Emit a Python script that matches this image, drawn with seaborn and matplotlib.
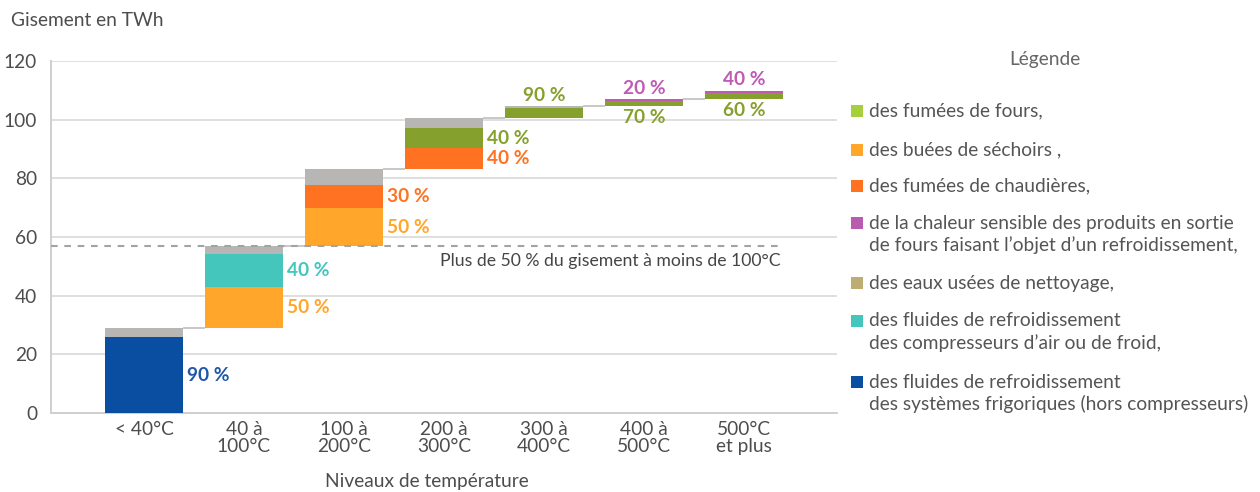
import numpy as np
import pandas as pd
import matplotlib
matplotlib.use("Agg")
import matplotlib.pyplot as plt
import seaborn as sns
from matplotlib.patches import Rectangle

# ---------------- data ----------------
categories = ["< 40°C", "40 à\n100°C", "100 à\n200°C", "200 à\n300°C",
              "300 à\n400°C", "400 à\n500°C", "500°C\net plus"]

# segment heights (TWh), stacking order bottom -> top
frigo = [25.8, 0, 0, 0, 0, 0, 0]
buees = [0, 14.0, 12.8, 0, 0, 0, 0]
compresseurs = [0, 11.3, 0, 0, 0, 0, 0]
chaudieres = [0, 0, 7.9, 6.9, 0, 0, 0]
fours = [0, 0, 0, 7.1, 3.3, 1.7, 2.2]
produits = [0, 0, 0, 0, 0, 0.7, 0.7]
eaux = [3.1, 2.8, 5.6, 3.4, 0.5, 0, 0]

series_keys = ["frigo", "buees", "compresseurs", "chaudieres", "fours", "produits", "eaux"]
series_values = [frigo, buees, compresseurs, chaudieres, fours, produits, eaux]

bar_colors = {"frigo": "#0a4ea2", "buees": "#ffa62b", "compresseurs": "#45c6bd",
              "chaudieres": "#ff7222", "fours": "#86a02e", "produits": "#c05ab4",
              "eaux": "#b8b6b4"}
label_colors = {"frigo": "#1f57aa", "buees": "#ffa62b", "compresseurs": "#45c6bd",
                "chaudieres": "#ff7222", "fours": "#86a02e", "produits": "#c05ab4"}

# percentage labels
label_cat = [0, 1, 1, 2, 2, 3, 3, 4, 5, 5, 6, 6]
label_series = ["frigo", "buees", "compresseurs", "buees", "chaudieres", "chaudieres",
                "fours", "fours", "produits", "fours", "produits", "fours"]
label_text = ["90 %", "50 %", "40 %", "50 %", "30 %", "40 %", "40 %",
              "90 %", "20 %", "70 %", "40 %", "60 %"]
label_place = ["right"] * 7 + ["above", "above", "below", "above", "below"]

threshold = 57.0
threshold_text = "Plus de 50 % du gisement à moins de 100°C"

legend_title = "Légende"
legend_keys = ["fours", "buees", "chaudieres", "produits", "eaux", "compresseurs", "frigo"]
legend_labels = ["des fumées de fours,",
                 "des buées de séchoirs ,",
                 "des fumées de chaudières,",
                 "de la chaleur sensible des produits en sortie\nde fours faisant l’objet d’un refroidissement,",
                 "des eaux usées de nettoyage,",
                 "des fluides de refroidissement\ndes compresseurs d’air ou de froid,",
                 "des fluides de refroidissement\ndes systèmes frigoriques (hors compresseurs)"]
legend_colors = ["#a6cf3e", "#ffa62b", "#ff7222", "#b95cb0", "#bcae72", "#45c6bd", "#0a4ea2"]

y_label = "Gisement en TWh"
x_label = "Niveaux de température"
y_ticks = [0, 20, 40, 60, 80, 100, 120]

# ---------------- style ----------------
sns.set_theme(style="white")
plt.rcParams["font.family"] = ["Lato", "DejaVu Sans"]

W, H = 1260, 492
FS = 13.8
fig = plt.figure(figsize=(W / 100, H / 100), dpi=100)
ax = fig.add_axes([51 / W, 1 - 413 / H, (837 - 51) / W, (413 - 61) / H])

seg = np.array(series_values, dtype=float)
bar_tot = seg.sum(axis=0)
base = np.concatenate([[0.0], np.cumsum(bar_tot)[:-1]])
bottoms = base + np.cumsum(seg, axis=0) - seg
bw = 0.78

for k, key in enumerate(series_keys):
    df = pd.DataFrame({"cat": categories, "val": seg[k]})
    sns.barplot(data=df, x="cat", y="val", order=categories, color=bar_colors[key],
                saturation=1, width=bw, errorbar=None, bottom=bottoms[k],
                linewidth=0, ax=ax, zorder=3)

# connectors
tops = base + bar_tot
for i in range(len(categories) - 1):
    ax.plot([i + bw / 2, i + 1 - bw / 2], [tops[i], tops[i]], color="#c8c8c8",
            lw=1.4, zorder=2, solid_capstyle="butt")

# threshold line
ax.plot([-0.93, 6.36], [threshold, threshold], color="#a3a3a3", lw=1.5,
        ls=(0, (3.2, 3.2)), zorder=4)
ax.text(6.37, 51.8, threshold_text, ha="right", va="center", fontsize=12.7,
        color="#454545", zorder=5)

# percentage labels
idx = {k: i for i, k in enumerate(series_keys)}
for c, s, t, p in zip(label_cat, label_series, label_text, label_place):
    k = idx[s]
    col = label_colors[s]
    if p == "right":
        y = bottoms[k][c] + seg[k][c] / 2
        ax.annotate(t, xy=(c + bw / 2, y), xytext=(3, 0), textcoords="offset points",
                    ha="left", va="center", fontsize=FS, fontweight="bold", color=col,
                    zorder=6)
    elif p == "above":
        ax.annotate(t, xy=(c, tops[c]), xytext=(0, 8), textcoords="offset points",
                    ha="center", va="center", fontsize=FS, fontweight="bold", color=col,
                    zorder=6)
    else:
        ax.annotate(t, xy=(c, base[c]), xytext=(0, -8), textcoords="offset points",
                    ha="center", va="center", fontsize=FS, fontweight="bold", color=col,
                    zorder=6)

# axes styling
ax.set_xlim(-0.93, 6.93)
ax.set_ylim(0, 120)
ax.set_yticks(y_ticks)
ax.set_xlabel("")
ax.set_ylabel("")
ax.yaxis.grid(True, color="#d9d9d9", lw=1.2, zorder=0)
ax.xaxis.grid(False)
ax.set_axisbelow(True)
for sp in ["top", "right"]:
    ax.spines[sp].set_visible(False)
ax.spines["left"].set_color("#cfcfcf")
ax.spines["bottom"].set_color("#cfcfcf")
ax.spines["left"].set_linewidth(1.4)
ax.spines["bottom"].set_linewidth(1.4)
ax.tick_params(axis="y", length=0, pad=10, labelsize=FS, labelcolor="#4d4d4d")
ax.tick_params(axis="x", length=0, pad=6, labelsize=FS, labelcolor="#4d4d4d")
for t in ax.get_xticklabels():
    t.set_linespacing(1.0)
    t.set_verticalalignment("top")

# figure texts
fig.text(11 / W, 1 - 21 / H, y_label, ha="left", va="center", fontsize=FS, color="#4d4d4d")
fig.text(427 / W, 1 - 473 / H, x_label, ha="center", va="top", fontsize=FS, color="#4d4d4d")

# legend
fig.text(1045 / W, 1 - 60 / H, legend_title, ha="center", va="center", fontsize=FS, color="#666666")
legend_y = [111, 150, 186, 223, 283, 321, 382]
line_gap = 22
for ypx, lab, col in zip(legend_y, legend_labels, legend_colors):
    fig.patches.append(Rectangle((851 / W, 1 - (ypx + 6) / H), 12 / W, 12 / H,
                                 transform=fig.transFigure, facecolor=col, edgecolor="none"))
    for j, line in enumerate(lab.split("\n")):
        fig.text(869 / W, 1 - (ypx + j * line_gap) / H, line, ha="left", va="center",
                 fontsize=FS, color="#555555")

fig.savefig("out.png", dpi=100, facecolor="white")
